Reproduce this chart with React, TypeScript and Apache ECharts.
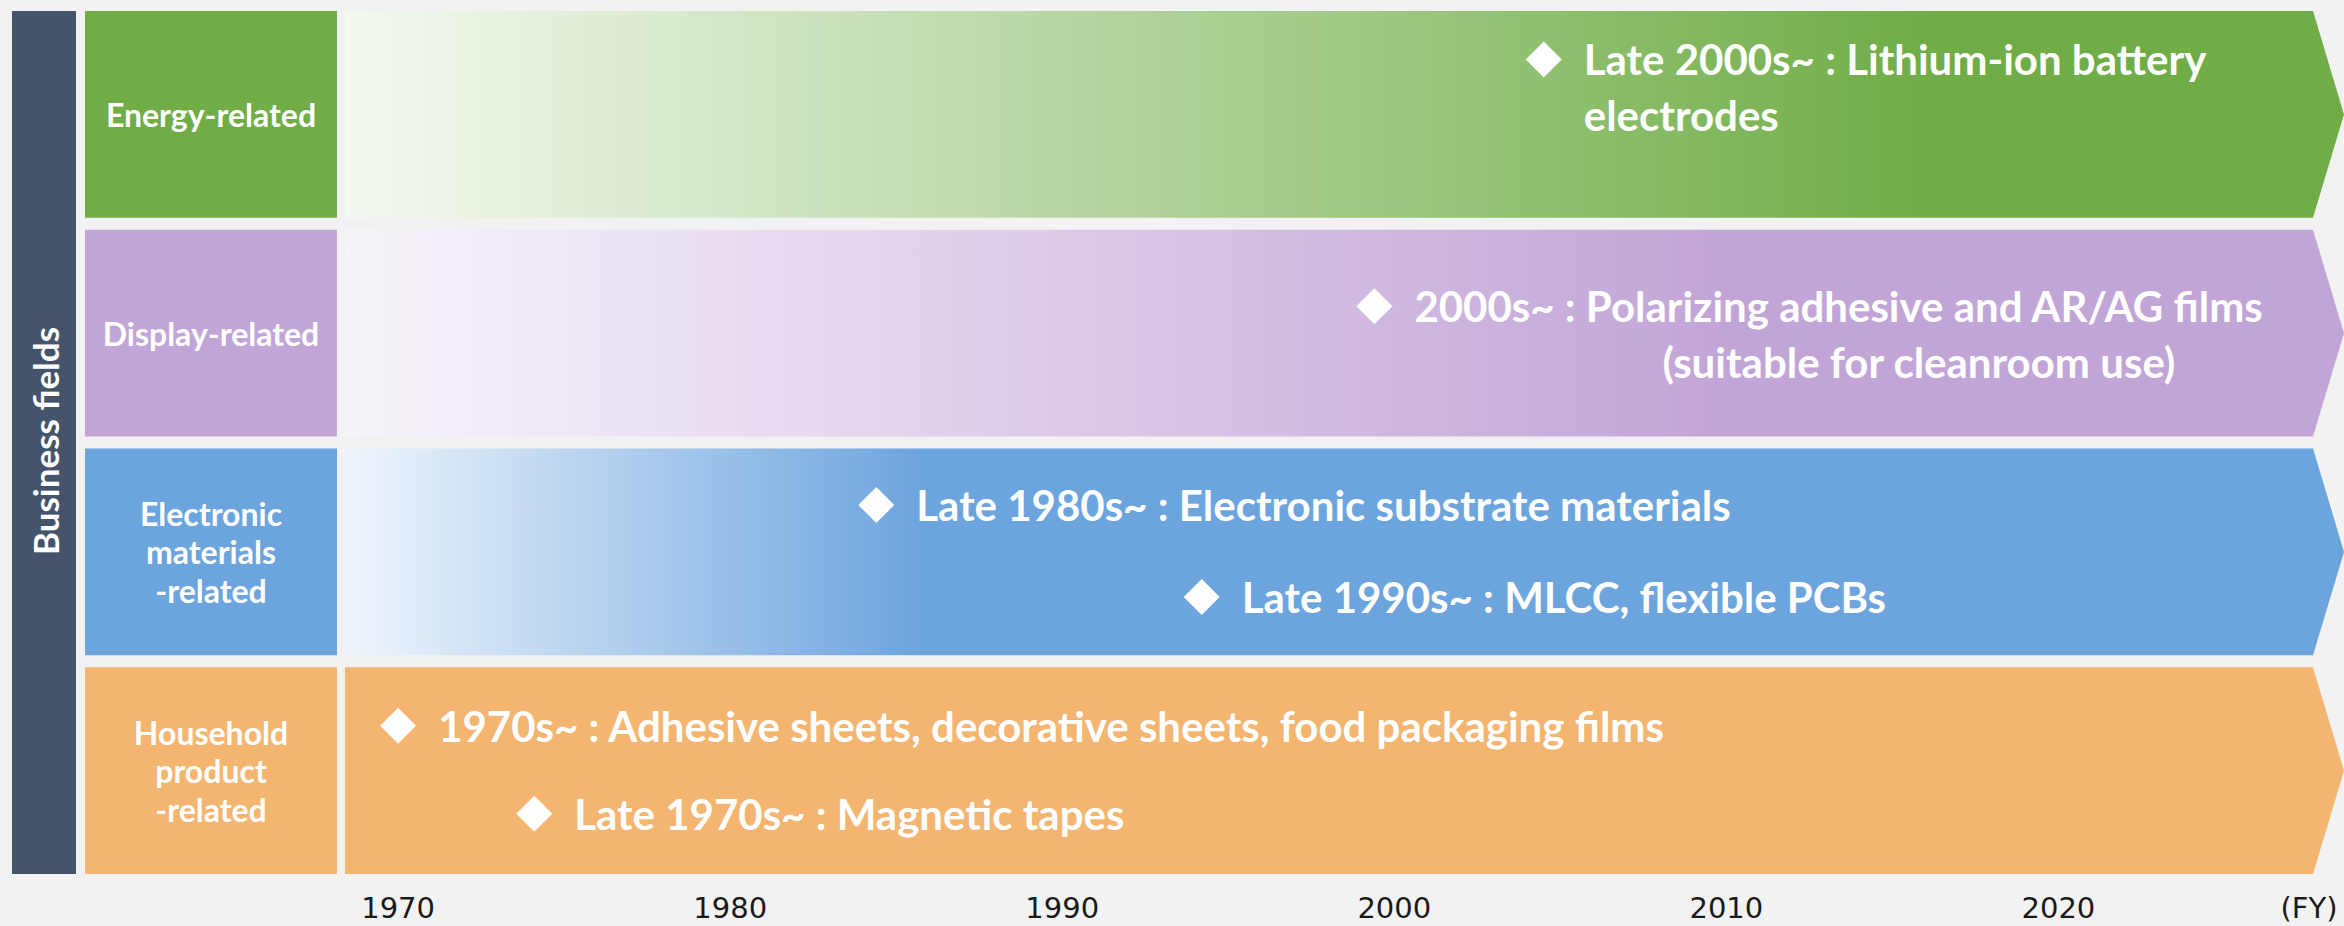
import React, { useEffect, useRef } from 'react';
import * as echarts from 'echarts';

// Business fields, top to bottom
const FIELDS = [
  'Energy-related',
  'Display-related',
  'Electronic\nmaterials\n-related',
  'Household\nproduct\n-related',
];
const FIELD_COLORS = ['#70ad47', '#c2a5d7', '#6ca4de', '#f4b570'];
// pale colour each arrow fades in from, and where along the arrow it reaches full colour
const FIELD_FADE_FROM = ['#f4f9f1', '#f7f4fa', '#eff5fc', '#f4b570'];
const FIELD_FADE_END = [0.79, 0.69, 0.29, 0.0];

// time axis (fiscal years)
const TIMELINE_START = 1968.4;
const TIMELINE_END = 2028.6;
const YEAR_TICKS = [1970, 1980, 1990, 2000, 2010, 2020];

// milestones: field index, year the diamond sits at, text lines
const MILESTONE_FIELD = [0, 1, 2, 2, 3, 3];
const MILESTONE_YEAR = [2004.5, 1999.4, 1984.4, 1994.2, 1970.0, 1974.1];
const MILESTONE_TEXT = [
  ['Late 2000s~ : Lithium-ion battery', 'electrodes'],
  ['2000s~ : Polarizing adhesive and AR/AG films', '(suitable for cleanroom use)'],
  ['Late 1980s~ : Electronic substrate materials'],
  ['Late 1990s~ : MLCC, flexible PCBs'],
  ['1970s~ : Adhesive sheets, decorative sheets, food packaging films'],
  ['Late 1970s~ : Magnetic tapes'],
];

// layout of the milestone labels inside each band (pixels)
const MILESTONE_DY = [-55, -27, -47, 45, -45, 43];
const CONTINUATION_INDENT = [0, 248, 0, 0, 0, 0];
const LINE_GAP = 56;

const FONT = 'Lato';

export default function App() {
  const ref = useRef<HTMLDivElement>(null);

  useEffect(() => {
    if (!ref.current) return;
    const chart = echarts.init(ref.current, null, { renderer: 'svg' });

    const fieldData = FIELDS.map((_, i) => [TIMELINE_START, i, TIMELINE_END]);
    const milestoneData = MILESTONE_YEAR.map((y, k) => [y, MILESTONE_FIELD[k]]);

    const option: any = {
      animation: false,
      backgroundColor: '#f2f2f2',
      grid: { left: 345, right: 0, top: 5, bottom: 46 },
      xAxis: {
        type: 'value',
        min: TIMELINE_START,
        max: TIMELINE_END,
        axisLine: { show: false },
        axisTick: { show: false },
        splitLine: { show: false },
        axisLabel: {
          customValues: YEAR_TICKS,
          formatter: (v: number) => String(Math.round(v)),
          margin: 13,
          fontSize: 29,
          fontFamily: 'DejaVu Sans',
          color: '#1a1a1a',
        },
        name: '(FY)',
        nameLocation: 'end',
        nameGap: -35,
        nameTextStyle: {
          fontSize: 29,
          fontFamily: 'DejaVu Sans',
          color: '#1a1a1a',
          align: 'center',
          verticalAlign: 'top',
          padding: [13, 0, 0, 0],
        },
      },
      yAxis: {
        type: 'category',
        data: FIELDS,
        inverse: true,
        show: false,
      },
      graphic: [
        {
          type: 'rect',
          shape: { x: 12, y: 11, width: 64, height: 863 },
          style: { fill: '#44546a' },
          z: 10,
        },
        {
          type: 'text',
          x: 45,
          y: 441,
          rotation: Math.PI / 2,
          style: {
            text: 'Business fields',
            fill: '#ffffff',
            fontSize: 35,
            fontWeight: 'bold',
            fontFamily: FONT,
            align: 'center',
            verticalAlign: 'middle',
          },
          z: 11,
        },
      ],
      series: [
        {
          type: 'custom',
          name: 'fields',
          coordinateSystem: 'cartesian2d',
          encode: { x: [0, 2], y: 1 },
          data: fieldData,
          z: 2,
          renderItem: (params: any, api: any) => {
            const i = params.dataIndex;
            const row = api.value(1);
            const [x0, cy] = api.coord([api.value(0), row]);
            const [x1] = api.coord([api.value(2), row]);
            const band = api.size([0, 1])[1];
            const h = band - 12;
            const top = cy - h / 2;
            const bottom = cy + h / 2;
            const head = 31;
            const fadeEnd = FIELD_FADE_END[i];
            const fill =
              fadeEnd > 0
                ? new echarts.graphic.LinearGradient(0, 0, 1, 0, [
                    { offset: 0, color: FIELD_FADE_FROM[i] },
                    { offset: fadeEnd, color: FIELD_COLORS[i] },
                    { offset: 1, color: FIELD_COLORS[i] },
                  ])
                : FIELD_COLORS[i];
            return {
              type: 'group',
              children: [
                {
                  type: 'polygon',
                  shape: {
                    points: [
                      [x0, top],
                      [x1 - head, top],
                      [x1, cy],
                      [x1 - head, bottom],
                      [x0, bottom],
                    ],
                  },
                  style: { fill },
                },
                {
                  type: 'rect',
                  shape: { x: x0 - 260, y: top, width: 252, height: h },
                  style: { fill: FIELD_COLORS[i] },
                },
                {
                  type: 'text',
                  x: x0 - 134,
                  y: cy,
                  style: {
                    text: FIELDS[i],
                    fill: '#ffffff',
                    fontSize: 32,
                    fontWeight: 'bold',
                    fontFamily: FONT,
                    lineHeight: 38.5,
                    align: 'center',
                    verticalAlign: 'middle',
                  },
                },
              ],
            };
          },
        },
        {
          type: 'custom',
          name: 'milestones',
          coordinateSystem: 'cartesian2d',
          encode: { x: 0, y: 1 },
          data: milestoneData,
          z: 3,
          renderItem: (params: any, api: any) => {
            const k = params.dataIndex;
            const [x, cy] = api.coord([api.value(0), api.value(1)]);
            const y = cy + MILESTONE_DY[k];
            const r = 18;
            const children: any[] = [
              {
                type: 'polygon',
                shape: {
                  points: [
                    [x, y - r],
                    [x + r, y],
                    [x, y + r],
                    [x - r, y],
                  ],
                },
                style: { fill: '#ffffff' },
              },
            ];
            MILESTONE_TEXT[k].forEach((line, j) => {
              children.push({
                type: 'text',
                x: x + 40 + (j > 0 ? CONTINUATION_INDENT[k] : 0),
                y: y + j * LINE_GAP,
                style: {
                  text: line,
                  fill: '#ffffff',
                  fontSize: 42,
                  fontWeight: 'bold',
                  fontFamily: FONT,
                  align: 'left',
                  verticalAlign: 'middle',
                },
              });
            });
            return { type: 'group', children };
          },
        },
      ],
    };

    chart.setOption(option);
    return () => chart.dispose();
  }, []);

  return (
    <div
      ref={ref}
      style={{ position: 'fixed', left: 0, top: 0, width: 2344, height: 926 }}
    />
  );
}
